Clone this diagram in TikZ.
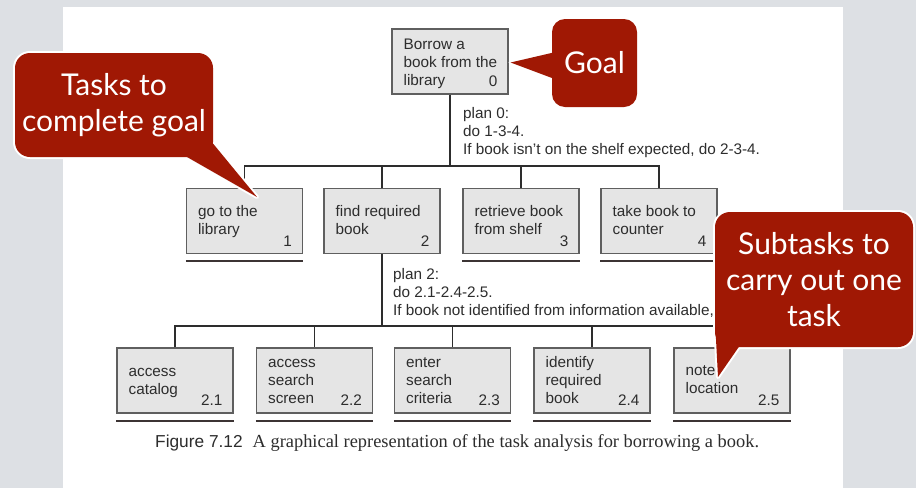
\documentclass[tikz,border=0pt]{standalone}
\usepackage{fontspec}
\setmainfont{Liberation Sans}
\newfontfamily\calloutfont{Lato}
\newfontfamily\serifcap{Liberation Serif}
\usetikzlibrary{calc}

\definecolor{slidegrey}{RGB}{221,224,228}
\definecolor{calloutred}{RGB}{160,24,4}
\definecolor{boxfill}{RGB}{229,229,229}
\definecolor{boxedge}{RGB}{95,95,95}
\definecolor{inkgrey}{RGB}{45,45,45}
\definecolor{leafink}{RGB}{60,52,52}

\newcommand\figtext{\fontsize{15.3}{18}\selectfont}

% text lines of a task box, first baseline #2 below the top edge
\newcommand\boxlines[3]{%
  \foreach \ln [count=\i from 0] in {#3} {%
    \node[boxtext] (#1-l\i) at ($(#1.north west)+(12,#2+18*\i)$) {\ln};
  }%
}
% task number in the lower right corner
\newcommand\boxnum[2]{\node[boxnum] (#1-n) at ($(#1.south east)+(-11,-8)$) {#2};}
% bar under a task that is not broken down further
\newcommand\leafbar[1]{\draw[leafline] ($(#1.south west)+(0,7)$) -- ($(#1.south east)+(0,7)$);}

\begin{document}
\begin{tikzpicture}[x=1pt,y=-1pt,
  taskbox/.style={draw=boxedge, fill=boxfill, line width=1.2pt,
    minimum width=116pt, minimum height=65pt, inner sep=0pt},
  boxtext/.style={anchor=base west, inner sep=0pt, font=\figtext, text=inkgrey},
  boxnum/.style={anchor=base east, inner sep=0pt, font=\figtext, text=inkgrey},
  plantext/.style={anchor=base west, inner sep=0pt, font=\figtext, text=inkgrey},
  link/.style={draw=inkgrey, line width=1.3pt},
  leafline/.style={draw=leafink, line width=2pt},
  rim/.style={draw=white, line width=4pt, line join=round},
  balloon/.style={fill=calloutred},
  callouttext/.style={text=white, font=\calloutfont\fontsize{30}{36}\selectfont,
    align=center, inner sep=0pt}
]
% slide background and page
\fill[white] (0,0) rectangle (923,488);
\fill[slidegrey] (0,0) rectangle (916,488);
\fill[white] (63,7) rectangle (843,488);
\useasboundingbox (0,0) rectangle (923,488);

% goal
\node[taskbox] (root) at (450,61.5) {};
\boxlines{root}{21}{Borrow a, book from the, library}
\boxnum{root}{0}

% tasks
\node[taskbox] (t1) at (244.5,221) {};
\node[taskbox] (t2) at (382,221) {};
\node[taskbox] (t3) at (521,221) {};
\node[taskbox] (t4) at (659,221) {};
\boxlines{t1}{29}{go to the, library}\boxnum{t1}{1}
\boxlines{t2}{29}{find required, book}\boxnum{t2}{2}
\boxlines{t3}{29}{retrieve book, from shelf}\boxnum{t3}{3}
\boxlines{t4}{29}{take book to, counter}\boxnum{t4}{4}

% subtasks of task 2
\node[taskbox] (s1) at (175,380.5) {};
\node[taskbox] (s2) at (314.5,380.5) {};
\node[taskbox] (s3) at (452.5,380.5) {};
\node[taskbox] (s4) at (592,380.5) {};
\node[taskbox] (s5) at (732,380.5) {};
\boxlines{s1}{29}{access, catalog}\boxnum{s1}{2.1}
\boxlines{s2}{20.5}{access, search, screen}\boxnum{s2}{2.2}
\boxlines{s3}{20.5}{enter, search, criteria}\boxnum{s3}{2.3}
\boxlines{s4}{20.5}{identify, required, book}\boxnum{s4}{2.4}
\boxlines{s5}{28}{note, location}\boxnum{s5}{2.5}

\foreach \b in {t1,t3,t4,s1,s2,s3,s4,s5} {\leafbar{\b}}

% hierarchy connectors
\coordinate (j0) at (450,166);
\coordinate (j2) at (382,326);
\draw[link] (root.south) -- (root.south |- j0);
\draw[link] (t1.north) -- (t1.north |- j0) -- (t4.north |- j0) -- (t4.north);
\foreach \t in {t2,t3} {\draw[link] (\t.north |- j0) -- (\t.north);}
\draw[link] (t2.south) -- (t2.south |- j2);
\draw[link] (s1.north) -- (s1.north |- j2) -- (s5.north |- j2) -- (s5.north);
\foreach \t in {s2,s3,s4} {\draw[link] (\t.north |- j2) -- (\t.north);}

% plans
\node[plantext] (p0a) at (463,118) {plan 0:};
\node[plantext] (p0b) at (463,136) {do 1-3-4.};
\node[plantext] (p0c) at (463,154) {If book isn't on the shelf expected, do 2-3-4.};
\node[plantext] (p2a) at (393,279) {plan 2:};
\node[plantext] (p2b) at (393,297) {do 2.1-2.4-2.5.};
\node[plantext] (p2c) at (393,315) {If book not identified from information available,};

% caption
\node[anchor=base west, inner sep=0pt, text=inkgrey] (caption) at (155,447)
  {{\fontsize{17.3}{17}\selectfont Figure 7.12}\hspace{10pt}{\serifcap\fontsize{18.4}{18}\selectfont A graphical representation of the task analysis for borrowing a book.}};

% speech balloons
\draw[rim] (552,19) [rounded corners=13] rectangle (637,107);
\draw[rim] (560,51) -- ($(root.east)+(2,1)$) -- (560,81) -- cycle;
\fill[balloon] (552,19) [rounded corners=13] rectangle (637,107);
\fill[balloon] (560,51) -- ($(root.east)+(2,1)$) -- (560,81) -- cycle;
\node[callouttext] (goal) at (594.5,63) {Goal};

\draw[rim] (15,53) [rounded corners=15] rectangle (213,157);
\draw[rim] (180,153) -- (257,197) -- (206,135) -- cycle;
\fill[balloon] (15,53) [rounded corners=15] rectangle (213,157);
\fill[balloon] (180,153) -- (257,197) -- (206,135) -- cycle;
\node[callouttext] (tasks) at (114,105) {Tasks to\\complete goal};

\draw[rim] (715,212) [rounded corners=15] rectangle (913,347);
\draw[rim] (715.5,330) -- (718,377) -- (745,338) -- cycle;
\fill[balloon] (715,212) [rounded corners=15] rectangle (913,347);
\fill[balloon] (715.5,330) -- (718,377) -- (745,338) -- cycle;
\node[callouttext] (subtasks) at (814,280) {Subtasks to\\carry out one\\task};
\end{tikzpicture}
\end{document}
